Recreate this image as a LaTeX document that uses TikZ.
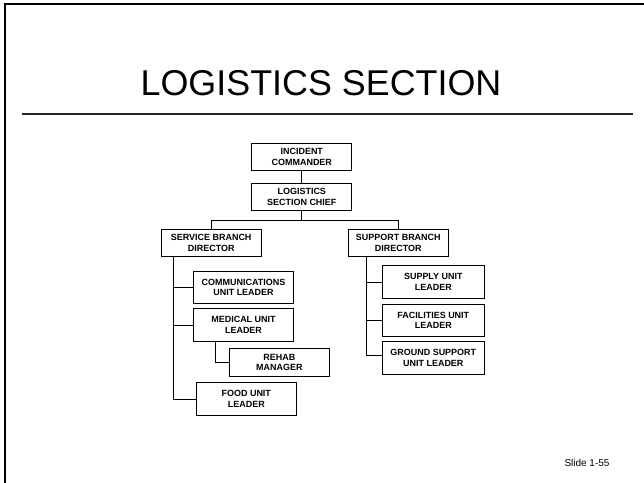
\documentclass[tikz,border=0pt]{standalone}
\usepackage{fontspec}
\setmainfont{Liberation Sans}
\usepackage{tikz}
\usetikzlibrary{positioning}

\begin{document}
\begin{tikzpicture}[
    x=1bp, y=-1bp,
    every node/.style={align=center, inner sep=2bp},
    block/.style={rectangle, draw=black, line width=1bp, fill=white, minimum width=100bp, minimum height=27bp, font=\bfseries\fontsize{9}{10.5}\selectfont},
    unitblock/.style={block, minimum height=32.5bp},
    link/.style={draw=black, line width=0.9bp}
]
    \useasboundingbox (0,0) rectangle (644,483);
    \draw[line width=2bp] (5,483) -- (5,4) -- (644,4);
    \node (title) at (321,83) {\fontsize{36}{40}\selectfont LOGISTICS SECTION};
    \draw[line width=1.6bp, black!85] (22,114) -- (633,114);

    \node[block] (cmd) at (301.8,157) {INCIDENT\\COMMANDER};
    \node[block, below=12bp of cmd] (chief) {LOGISTICS\\SECTION CHIEF};
    \node[block] (service) at (211.2,243) {SERVICE BRANCH\\DIRECTOR};
    \node[block] (support) at (398.3,243) {SUPPORT BRANCH\\DIRECTOR};

    \node[unitblock] (comm) at (243.5,287.5) {COMMUNICATIONS\\UNIT LEADER};
    \node[unitblock, below=4bp of comm] (medical) {MEDICAL UNIT\\LEADER};
    \node[block, minimum height=28.5bp] (rehab) at (279.4,362.5) {REHAB\\MANAGER};
    \node[unitblock] (food) at (246.3,399) {FOOD UNIT\\LEADER};

    \node[unitblock, minimum width=102bp] (supply) at (433.3,282) {SUPPLY UNIT\\LEADER};
    \node[unitblock, minimum width=102bp, below=5bp of supply] (facilities) {FACILITIES UNIT\\LEADER};
    \node[unitblock, minimum width=102bp, below=4bp of facilities] (ground) {GROUND SUPPORT\\UNIT LEADER};

    \node (slide) at (587,462.7) {\fontsize{10}{12}\selectfont Slide 1-55};

    \draw[link] (cmd) -- (chief);
    \draw[link] (chief.south) -- ++(0,9) -| (service.north);
    \draw[link] (chief.south) -- ++(0,9) -| (support.north);
    \draw[link] ([xshift=13bp]service.south west) |- (comm.west);
    \draw[link] ([xshift=13bp]service.south west) |- (medical.west);
    \draw[link] ([xshift=13bp]service.south west) |- (food.west);
    \draw[link] ([xshift=22bp]medical.south west) |- (rehab.west);
    \draw[link] ([xshift=18.5bp]support.south west) |- (supply.west);
    \draw[link] ([xshift=18.5bp]support.south west) |- (facilities.west);
    \draw[link] ([xshift=18.5bp]support.south west) |- ([yshift=3bp]ground.west);
\end{tikzpicture}
\end{document}
